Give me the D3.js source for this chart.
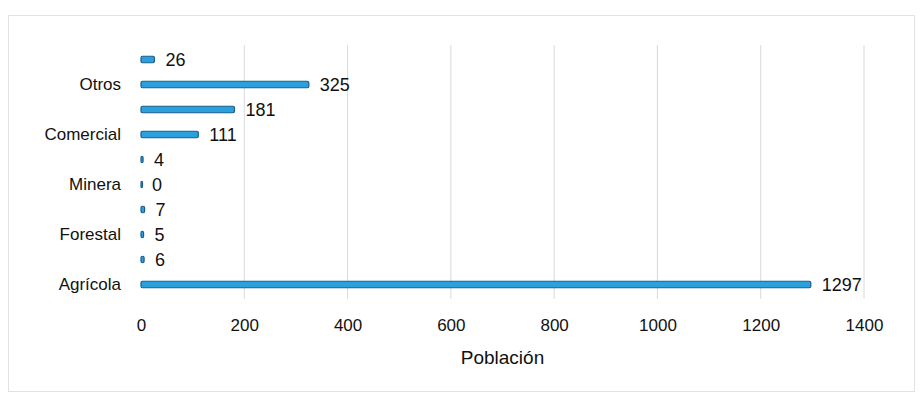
<!DOCTYPE html>
<html>
<head>
<meta charset="utf-8">
<script src="https://cdn.jsdelivr.net/npm/d3@7"></script>
<style>
  body { margin: 0; background: #fff; }
  text { font-family: "Liberation Sans Narrow", "Arial Narrow", "Liberation Sans", sans-serif; fill: #111; }
</style>
</head>
<body>
<div id="chart"></div>
<script>
// Data (bottom row first, as drawn)
const categories = ["Agrícola", "r2", "Forestal", "r4", "Minera", "r6", "Comercial", "r8", "Otros", "r10"];
const rowLabels = ["Agrícola", "", "Forestal", "", "Minera", "", "Comercial", "", "Otros", ""];
const values = [1297, 6, 5, 7, 0, 4, 111, 181, 325, 26];
const xTicks = [0, 200, 400, 600, 800, 1000, 1200, 1400];

const WIDTH = 922;
const HEIGHT = 396;
const margin = { left: 141, right: 58, top: 47, bottom: 99 };

const svg = d3.select("#chart")
    .append("svg")
    .attr("width", WIDTH)
    .attr("height", HEIGHT);

// outer frame
svg.append("rect")
    .attr("x", 8.5).attr("y", 15.5)
    .attr("width", 906).attr("height", 376)
    .attr("fill", "none")
    .attr("stroke", "#e2e2e2");

const x = d3.scaleLinear()
    .domain([0, 1400])
    .range([margin.left, WIDTH - margin.right]);

const y = d3.scaleBand()
    .domain(categories.slice().reverse())
    .range([margin.top, HEIGHT - margin.bottom])
    .paddingInner(0.74)
    .paddingOuter(0.37);

// gridlines
svg.append("g")
    .selectAll("line")
    .data(xTicks.slice(1))
    .enter()
    .append("line")
    .attr("x1", d => x(d)).attr("x2", d => x(d))
    .attr("y1", margin.top - 2).attr("y2", HEIGHT - margin.bottom + 2)
    .attr("stroke", "#d9d9d9")
    .attr("stroke-width", 1);

// x axis (labels only)
const xAxis = svg.append("g")
    .attr("transform", `translate(0, ${HEIGHT - margin.bottom})`)
    .call(d3.axisBottom(x).tickValues(xTicks).tickFormat(d3.format("d")).tickSize(0).tickPadding(22));
xAxis.select(".domain").remove();
xAxis.selectAll("text")
    .style("font-size", "17px")
    .attr("fill", "#111");

// y axis labels
const yAxis = svg.append("g")
    .attr("transform", `translate(${margin.left - 18}, 0)`)
    .call(d3.axisLeft(y).tickSize(0).tickPadding(2)
        .tickFormat(d => rowLabels[categories.indexOf(d)]));
yAxis.select(".domain").remove();
yAxis.selectAll("text")
    .style("font-size", "17px")
    .attr("fill", "#111");

// bars
svg.append("g")
    .selectAll("rect")
    .data(values)
    .enter()
    .append("rect")
    .attr("x", x(0))
    .attr("y", (d, i) => y(categories[i]))
    .attr("width", d => Math.max(x(d) - x(0), 1.5))
    .attr("height", y.bandwidth())
    .attr("rx", 1.5)
    .attr("fill", "#2aa0dc")
    .attr("stroke", "#1b5d8c")
    .attr("stroke-width", 1.2);

// value labels
svg.append("g")
    .selectAll("text")
    .data(values)
    .enter()
    .append("text")
    .attr("x", d => x(d) + 11)
    .attr("y", (d, i) => y(categories[i]) + y.bandwidth() / 2)
    .attr("dy", "0.35em")
    .style("font-size", "18px")
    .text(d => d);

// axis title
svg.append("text")
    .attr("x", (x(0) + x(1400)) / 2)
    .attr("y", 364)
    .attr("text-anchor", "middle")
    .style("font-size", "19px")
    .text("Población");
</script>
</body>
</html>
